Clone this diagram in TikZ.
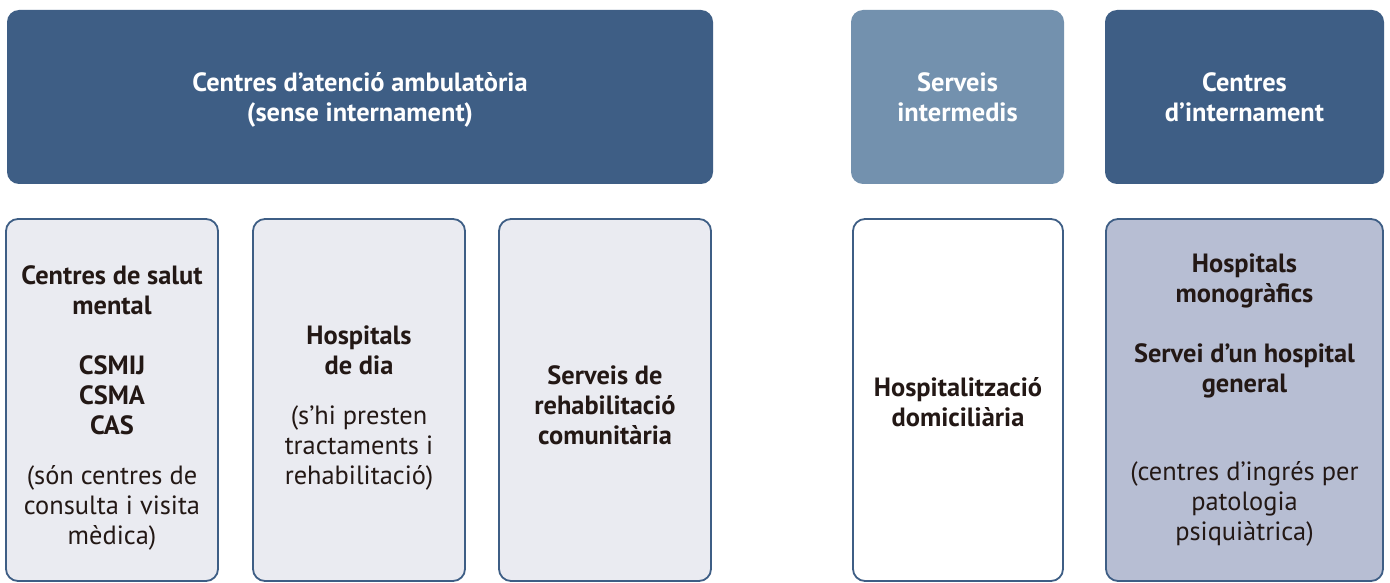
\documentclass[tikz,border=0pt]{standalone}
\usepackage{fontspec}
\setmainfont{PT Sans}
\definecolor{darkblue}{HTML}{3E5E85}
\definecolor{midblue}{HTML}{7391AE}
\definecolor{lightfill}{HTML}{EAEBF1}
\definecolor{lavender}{HTML}{B7BED3}
\definecolor{ink}{HTML}{231815}
\tikzset{
  headbox/.style={rounded corners=12pt, fill=darkblue, inner sep=0pt, minimum height=174pt},
  headlight/.style={headbox, fill=midblue},
  headtext/.style={text=white, align=center, inner sep=0pt, font=\bfseries\fontsize{26.4}{30}\selectfont},
  itembox/.style={rounded corners=12pt, draw=darkblue, line width=1.8pt, fill=lightfill,
    inner sep=0pt, minimum height=362pt},
  itemtext/.style={text=ink, align=center, inner sep=0pt, font=\fontsize{26.4}{30}\selectfont},
}
\begin{document}
\begin{tikzpicture}[x=1pt,y=-1pt]
\useasboundingbox (0,0) rectangle (1390,583);
\fill[white] (0,0) rectangle (1390,583);
% header boxes
\node[headbox, minimum width=706pt] (amb) at (360,97) {};
\node[headlight, minimum width=213pt] (inter) at (957.5,97) {};
\node[headbox, minimum width=279pt] (intern) at (1244.5,97) {};
\node[headtext] (ambt) at ([yshift=-3pt]amb.center) {Centres d’atenció ambulatòria\\(sense internament)};
\node[headtext] (intert) at (inter.center) {Serveis\\intermedis};
\node[headtext] (internt) at (intern.center) {Centres\\d’internament};
% item boxes
\node[itembox, minimum width=212pt] (csm) at (112,400) {};
\node[itembox, minimum width=212pt] (hdia) at (359,400) {};
\node[itembox, minimum width=212pt] (rehab) at (605,400) {};
\node[itembox, minimum width=210pt, fill=white] (domi) at (958,400) {};
\node[itembox, minimum width=277pt, fill=lavender] (hosp) at (1244.5,400) {};
% item texts
\node[itemtext] (csmt) at ([yshift=-8pt]csm.center) {\textbf{Centres de salut}\\\textbf{mental}\\[30pt]\textbf{CSMIJ}\\\textbf{CSMA}\\\textbf{CAS}\\[20pt](són centres de\\consulta i visita\\mèdica)};
\node[itemtext] (hdiat) at ([yshift=-8pt]hdia.center) {\textbf{Hospitals}\\\textbf{de dia}\\[20pt](s’hi presten\\tractaments i\\rehabilitació)};
\node[itemtext] (rehabt) at ([yshift=-5pt]rehab.center) {\textbf{Serveis de}\\\textbf{rehabilitació}\\\textbf{comunitària}};
\node[itemtext] (domit) at ([yshift=-2pt]domi.center) {\textbf{Hospitalització}\\\textbf{domiciliària}};
\node[itemtext] (hospt) at (hosp.center) {\textbf{Hospitals}\\\textbf{monogràfics}\\[30pt]\textbf{Servei d’un hospital}\\\textbf{general}\\[58pt](centres d’ingrés per\\patologia\\psiquiàtrica)};
\end{tikzpicture}
\end{document}
